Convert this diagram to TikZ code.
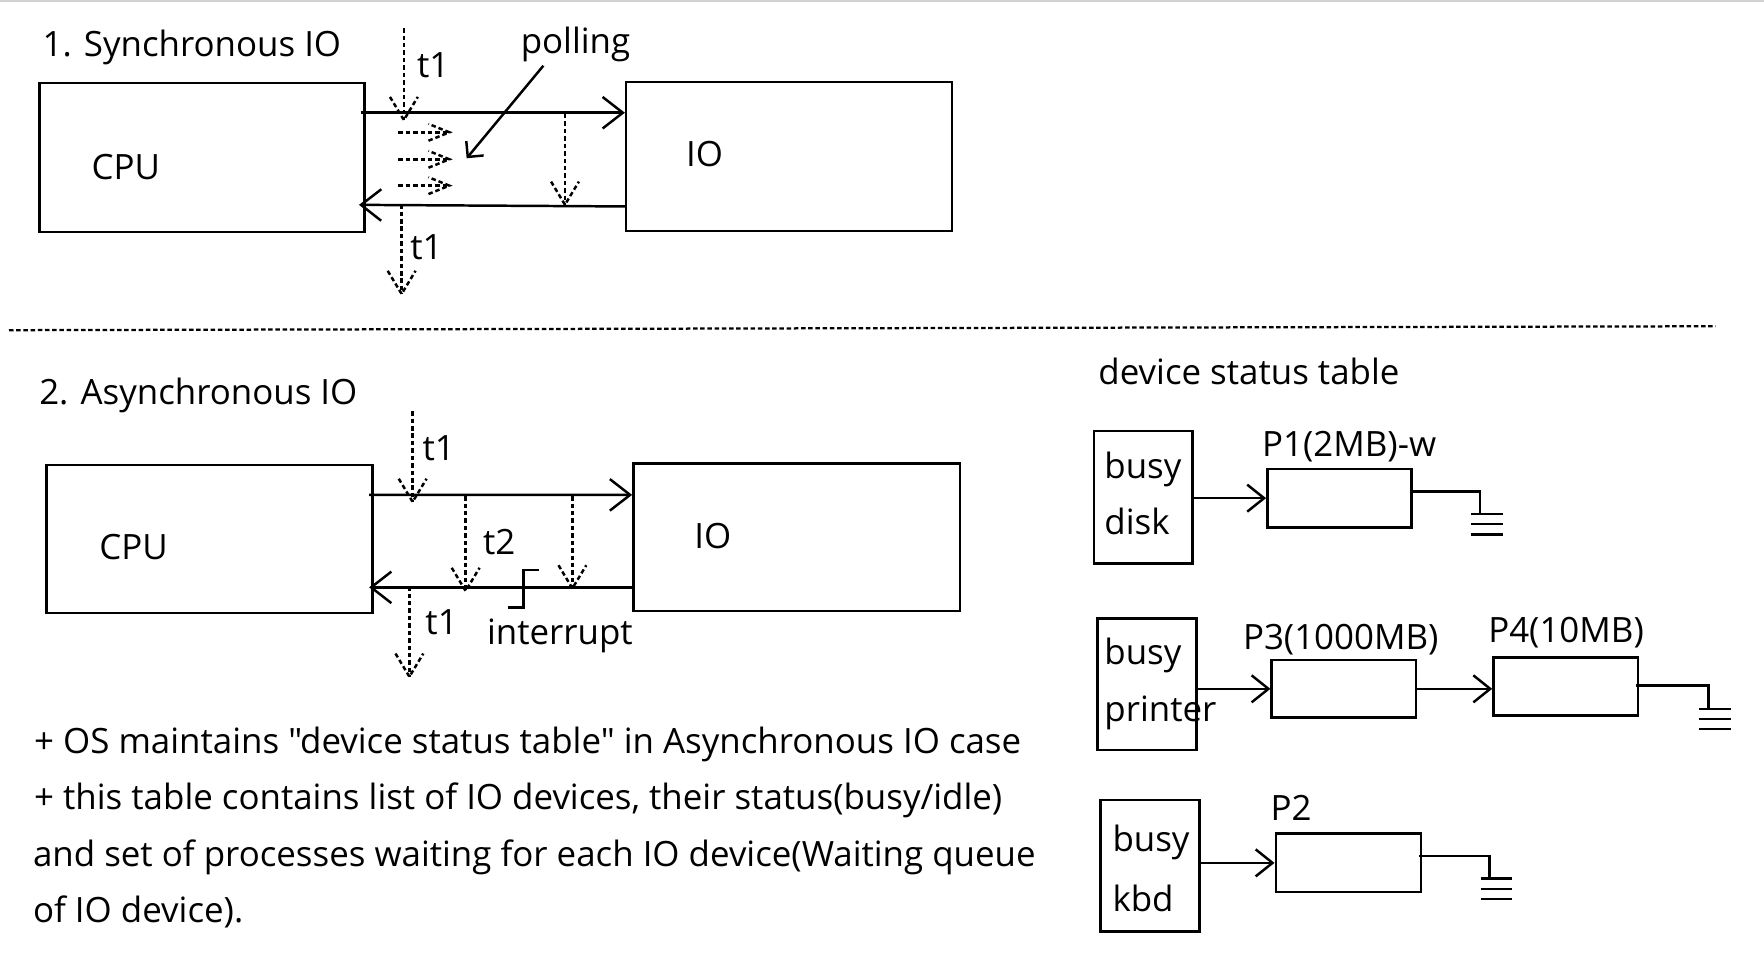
\documentclass[tikz,border=0pt]{standalone}
\usepackage{fontspec}
\setmainfont{Open Sans}[Ligatures=TeXOff]
\usetikzlibrary{arrows.meta,calc}
\newcommand\fs{\fontsize{15.5pt}{18pt}\selectfont}
% dashed arrow with dashed barbs: start, end, barb length, half angle
\newcommand\dashedarrowto[4]{%
  \draw[dsh] (#1) -- (#2);
  \draw[dsh] ($(#2)!#3!#4:(#1)$) -- (#2) -- ($(#2)!#3!-#4:(#1)$);
}
% ground symbol hanging below a coordinate
\newcommand\groundat[1]{%
  \draw[ln] ($(#1)+(-8,0)$) -- ($(#1)+(20,0)$);
  \draw[ln] ($(#1)+(-8,9)$) -- ($(#1)+(20,9)$);
  \draw[ln] ($(#1)+(-8,18)$) -- ($(#1)+(20,18)$);
}
\tikzset{
  bx/.style={draw, line width=1.1pt, inner sep=0pt},
  txt/.style={inner sep=0pt, anchor=base west, font=\fs},
  ln/.style={line width=1.1pt},
  conn/.style={line width=1.1pt, -{Straight Barb[length=9pt,width=14pt]}},
  qconn/.style={line width=1.1pt, -{Straight Barb[length=7.5pt,width=12pt]}},
  pconn/.style={line width=1.1pt, -{Straight Barb[length=5pt,width=10pt]}},
  dsh/.style={line width=1.1pt, dash pattern=on 2pt off 1.3pt},
}
\begin{document}
\begin{tikzpicture}[x=0.5pt,y=-0.5pt]
\useasboundingbox (0,0) rectangle (1568,869.33);
\coordinate (tl) at (0,1);
\coordinate (tr) at (1568,1);
\draw[gray!35, line width=0.6pt] (tl) -- (tr);

% ---------- 1. Synchronous IO ----------
\node[txt] (h1) at (37.5,50.5) {1. Synchronous IO};
\node[bx, minimum width=144.5pt, minimum height=66pt] (cpu1) at (179.5,140) {};
\node[bx, minimum width=144.75pt, minimum height=66.2pt] (io1) at (701.3,139.2) {};
\node[txt] (cpu1t) at (81,159.9) {CPU};
\node[txt] (io1t) at (609.4,148.1) {IO};
\draw[conn] ($(cpu1.north east)+(-4,27.3)$) -- ($(io1.north west)+(0,28.3)$);
\draw[conn] ($(io1.south west)+(0,-23)$) -- ($(cpu1.south east)+(-6,-25)$);

\coordinate (s1a) at (359,25);
\coordinate (s1b) at (359,106.7);
\dashedarrowto{s1a}{s1b}{12pt}{31}
\node[txt] (s1t) at (370.4,68.7) {t1};

\coordinate (p1a) at (354,117.6);  \coordinate (p1b) at (399.4,117.6);
\coordinate (p2a) at (354,141.6);  \coordinate (p2b) at (399.4,141.6);
\coordinate (p3a) at (354,165);    \coordinate (p3b) at (399.4,165);
\dashedarrowto{p1a}{p1b}{10pt}{22}
\dashedarrowto{p2a}{p2b}{10pt}{22}
\dashedarrowto{p3a}{p3b}{10pt}{22}

\node[txt] (poll) at (462.5,47.4) {polling};
\coordinate (pollend) at (414.8,140.7);
\draw[pconn] ($(poll.base west)+(20.5,11)$) -- (pollend);

\coordinate (s1c) at (502.2,101.3);
\coordinate (s1d) at (502.2,182);
\dashedarrowto{s1c}{s1d}{12pt}{31}

\coordinate (s1e) at (357,181.5);
\coordinate (s1f) at (357,261.3);
\dashedarrowto{s1e}{s1f}{12pt}{31}
\node[txt] (s1t2) at (364.4,230.5) {t1};

% separator
\coordinate (sepl) at (8,293.5);
\coordinate (sepr) at (1525,290);
\draw[line width=1pt, dash pattern=on 2pt off 1.2pt] (sepl) -- (sepr);

% ---------- 2. Asynchronous IO ----------
\node[txt] (h2) at (34.5,359.6) {2. Asynchronous IO};
\node[bx, minimum width=144.8pt, minimum height=65.7pt] (cpu2) at (186.2,479) {};
\node[bx, minimum width=145.1pt, minimum height=65.6pt] (io2) at (708.1,477.4) {};
\node[txt] (cpu2t) at (87.9,497.5) {CPU};
\node[txt] (io2t) at (616.8,487.2) {IO};
\draw[conn] ($(cpu2.north east)+(-4,27.6)$) -- ($(io2.north west)+(0,29.2)$);
\draw[conn] ($(io2.south west)+(0,-22)$) -- ($(cpu2.south east)+(-4,-23.7)$);

\coordinate (a1a) at (366.8,365.5);
\coordinate (a1b) at (366.8,446.1);
\dashedarrowto{a1a}{a1b}{12pt}{31}
\node[txt] (a1t) at (375.3,408.9) {t1};

\coordinate (a2a) at (413.9,441);
\coordinate (a2b) at (413.9,525.3);
\dashedarrowto{a2a}{a2b}{12pt}{31}
\node[txt] (a2t) at (429,493.3) {t2};

\coordinate (a3a) at (508.8,441);
\coordinate (a3b) at (508.8,523);
\dashedarrowto{a3a}{a3b}{12pt}{31}

\coordinate (a4a) at (363.9,521);
\coordinate (a4b) at (363.9,601.5);
\dashedarrowto{a4a}{a4b}{12pt}{31}
\node[txt] (a4t) at (377.8,563.9) {t1};

\coordinate (stp1) at (451.3,540.1);
\coordinate (stp2) at (479.1,506.7);
\draw[ln] (stp1) -- (465.2,540.1) -- (465.2,506.7) -- (stp2);
\node[txt] (intr) at (432.5,573.3) {interrupt};

% notes
\node[txt] (n1) at (30,669.9) {+ OS maintains "device status table" in Asynchronous IO case};
\node[txt] (n2) at (30,719.9) {+ this table contains list of IO devices, their status(busy/idle)};
\node[txt] (n3) at (29,769.9) {and set of processes waiting for each IO device(Waiting queue};
\node[txt] (n4) at (29,819.9) {of IO device).};

% ---------- device status table ----------
\node[txt] (dst) at (976,342.2) {device status table};

\node[bx, minimum width=43.85pt, minimum height=58.8pt] (disk) at (1016.25,441.9) {};
\node[txt] (disk1) at (981.3,425.2) {busy};
\node[txt] (disk2) at (981.3,475) {disk};
\node[bx, minimum width=64.15pt, minimum height=25.9pt] (pp1) at (1190.65,442.8) {};
\node[txt] (pp1t) at (1121.5,405.9) {P1(2MB)-w};
\draw[qconn] (disk.east |- pp1.west) -- (pp1.west);
\coordinate (g1) at (1315.6,456.9);
\draw[ln] ($(pp1.east)+(-3,-6)$) -| (g1);
\groundat{g1}

\node[bx, minimum width=44.15pt, minimum height=58.55pt] (prn) at (1019.55,608.15) {};
\node[txt] (prn1) at (981.3,591.1) {busy};
\node[txt] (prn2) at (981.3,641.5) {printer};
\node[bx, minimum width=64.15pt, minimum height=25.6pt] (pp3) at (1194.55,612.3) {};
\node[txt] (pp3t) at (1104.5,577.2) {P3(1000MB)};
\node[bx, minimum width=64.15pt, minimum height=25.75pt] (pp4) at (1391.65,610.25) {};
\node[txt] (pp4t) at (1322.5,571) {P4(10MB)};
\draw[qconn] (prn.east |- pp3.west) -- (pp3.west);
\draw[qconn] (pp3.east) -- (pp4.west |- pp3.east);
\coordinate (g2) at (1518.5,630);
\draw[ln] ($(pp4.east)+(-3,-1)$) -| (g2);
\groundat{g2}

\node[bx, minimum width=44pt, minimum height=58.5pt] (kbd) at (1022,769.5) {};
\node[txt] (kbd1) at (988.5,757) {busy};
\node[txt] (kbd2) at (988.5,810) {kbd};
\node[bx, minimum width=64.5pt, minimum height=26pt] (pp2) at (1198.5,767) {};
\node[txt] (pp2t) at (1129,729.5) {P2};
\draw[qconn] (kbd.east |- pp2.west) -- (pp2.west);
\coordinate (g3) at (1324,781);
\draw[ln] ($(pp2.east)+(-3,-6)$) -| (g3);
\groundat{g3}
\end{tikzpicture}
\end{document}
